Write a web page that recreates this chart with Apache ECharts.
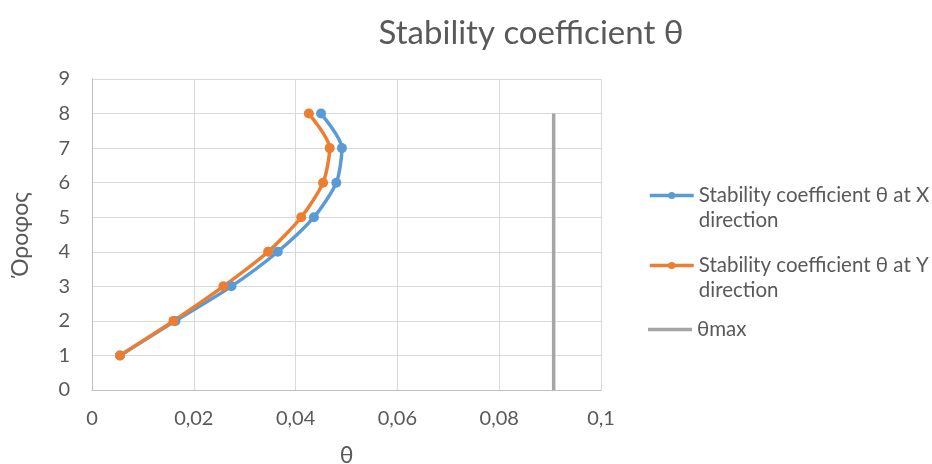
<!DOCTYPE html>
<html>
<head>
<meta charset="utf-8">
<script src="https://cdn.jsdelivr.net/npm/echarts@6/dist/echarts.min.js"></script>
<style>
  html, body { margin: 0; padding: 0; background: #fff; }
  #container { width: 932px; height: 464px; }
</style>
</head>
<body>
<div id="container"></div>
<script>
// floors (Όροφος) and stability coefficients
var floors = [1, 2, 3, 4, 5, 6, 7, 8];
var thetaX = [0.0055, 0.0164, 0.0274, 0.0365, 0.0436, 0.0480, 0.0491, 0.0450];
var thetaY = [0.0055, 0.0160, 0.0258, 0.0346, 0.0411, 0.0454, 0.0467, 0.0426];
var thetaMax = 0.0907;
var thetaMaxFloors = [0, 8];

var nameX = 'Stability coefficient θ at X\ndirection';
var nameY = 'Stability coefficient θ at Y\ndirection';
var nameMax = 'θmax';

var FONT = 'Lato';
var TXT = '#595959';

function pairs(xs, ys) {
  return xs.map(function (x, i) { return [x, ys[i]]; });
}

var dom = document.getElementById('container');
var myChart = echarts.init(dom, null, { renderer: 'canvas' });

var option = {
  animation: false,
  textStyle: { fontFamily: FONT },
  title: {
    text: 'Stability coefficient θ',
    left: 526,
    top: 12,
    textAlign: 'center',
    textStyle: { fontFamily: FONT, fontSize: 33, fontWeight: 'normal', color: TXT }
  },
  legend: [
    {
      // empty first line keeps the icon level with the first text line
      orient: 'vertical',
      left: 648,
      top: 158,
      padding: 0,
      itemWidth: 44,
      itemHeight: 9,
      itemGap: -5,
      data: [nameX, nameY],
      formatter: function (name) { return '\n' + name; },
      lineStyle: { width: 3.5 },
      textStyle: { fontFamily: FONT, fontSize: 20.5, color: TXT, lineHeight: 25 }
    },
    {
      orient: 'vertical',
      left: 648,
      top: 317,
      padding: 0,
      itemWidth: 44,
      itemHeight: 3.5,
      icon: 'rect',
      data: [nameMax],
      textStyle: { fontFamily: FONT, fontSize: 20.5, color: TXT, lineHeight: 25 }
    }
  ],
  grid: { left: 92, right: 331, top: 79, bottom: 74, outerBoundsMode: 'none', containLabel: false },
  xAxis: {
    type: 'value',
    min: 0,
    max: 0.1,
    interval: 0.02,
    name: 'θ',
    nameLocation: 'middle',
    nameGap: 54,
    nameTextStyle: { fontFamily: FONT, fontSize: 23, color: TXT },
    axisLine: { show: true, lineStyle: { color: '#BFBFBF', width: 1 } },
    axisTick: { show: false },
    axisLabel: {
      fontFamily: FONT, fontSize: 20, color: TXT, margin: 19,
      formatter: function (v) { return String(+v.toFixed(2)).replace('.', ','); }
    },
    splitLine: { show: true, lineStyle: { color: '#D9D9D9', width: 1 } }
  },
  yAxis: {
    type: 'value',
    min: 0,
    max: 9,
    interval: 1,
    name: 'Όροφος',
    nameLocation: 'middle',
    nameGap: 60,
    nameTextStyle: { fontFamily: FONT, fontSize: 23, color: TXT },
    axisLine: { show: true, lineStyle: { color: '#BFBFBF', width: 1 } },
    axisTick: { show: false },
    axisLabel: { fontFamily: FONT, fontSize: 20, color: TXT, margin: 22 },
    splitLine: { show: true, lineStyle: { color: '#D9D9D9', width: 1 } }
  },
  series: [
    {
      name: nameX,
      type: 'line',
      smooth: 0.25,
      data: pairs(thetaX, floors),
      symbol: 'circle',
      symbolSize: 10,
      lineStyle: { color: '#5B9BD5', width: 3.5 },
      itemStyle: { color: '#5B9BD5' }
    },
    {
      name: nameY,
      type: 'line',
      smooth: 0.25,
      data: pairs(thetaY, floors),
      symbol: 'circle',
      symbolSize: 10,
      lineStyle: { color: '#ED7D31', width: 3.5 },
      itemStyle: { color: '#ED7D31' }
    },
    {
      name: nameMax,
      type: 'line',
      data: thetaMaxFloors.map(function (f) { return [thetaMax, f]; }),
      symbol: 'none',
      lineStyle: { color: '#A5A5A5', width: 3.5 },
      itemStyle: { color: '#A5A5A5' }
    }
  ]
};

myChart.setOption(option);
window.addEventListener('resize', myChart.resize);
</script>
</body>
</html>
